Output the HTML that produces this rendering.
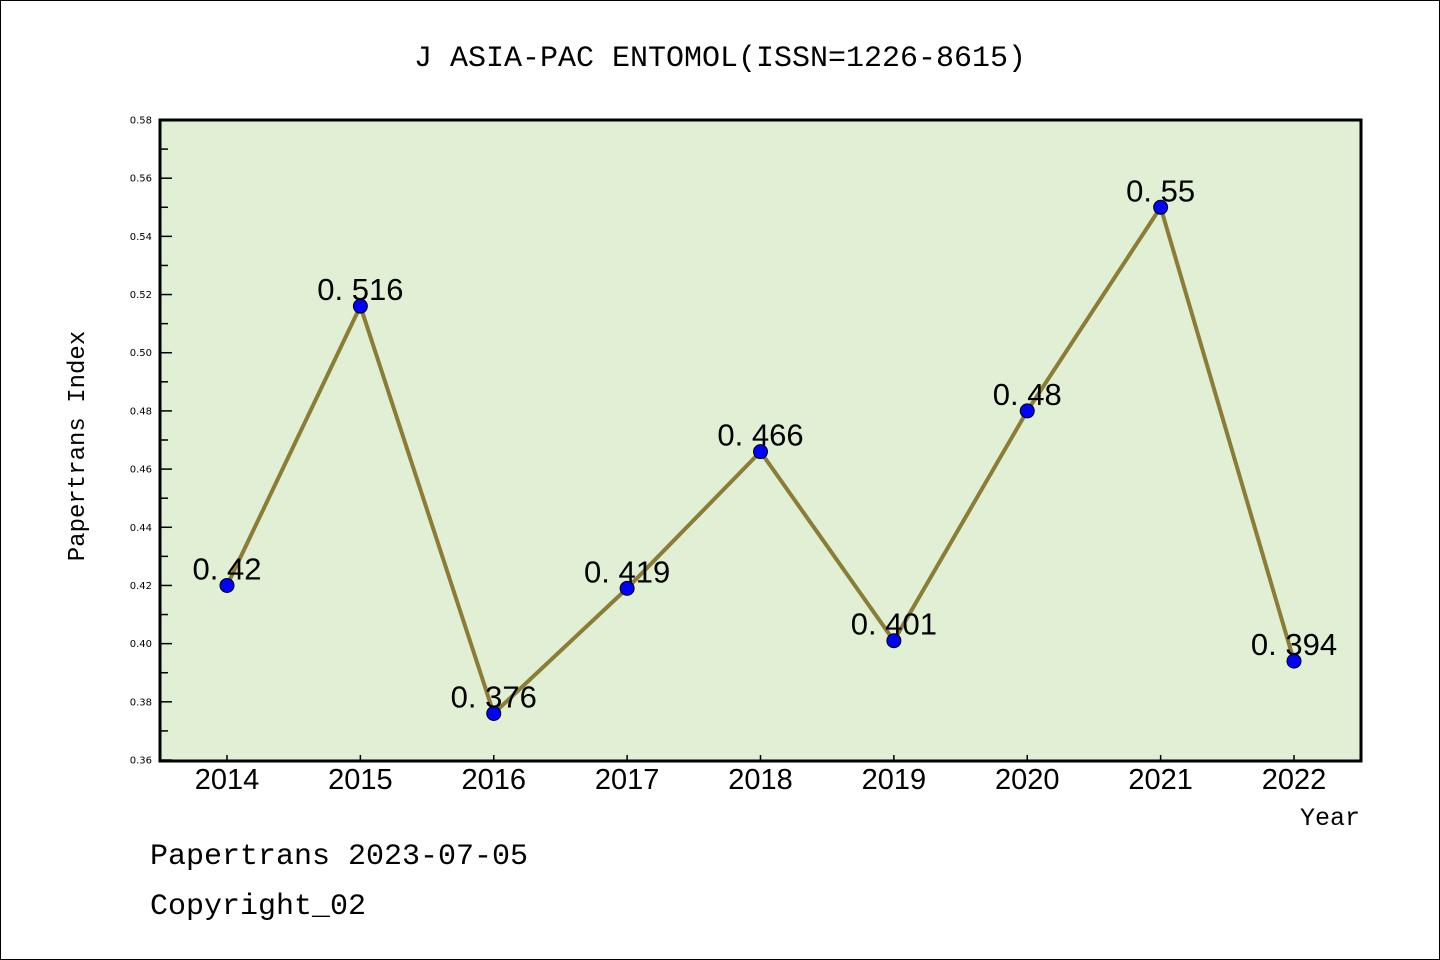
<!DOCTYPE html>
<html><head><meta charset="utf-8"><style>
html,body{margin:0;padding:0;background:#fff;}
svg{display:block;font-family:"Liberation Mono","DejaVu Sans Mono",monospace;}
</style></head><body>
<svg id="chart" width="1440" height="960" viewBox="0 0 1440 960" xmlns="http://www.w3.org/2000/svg">
<rect x="0.5" y="0.5" width="1439" height="959" fill="#fff" stroke="#000"/>
<text x="720" y="66" text-anchor="middle" font-size="30">J ASIA-PAC ENTOMOL(ISSN=1226-8615)</text>
<rect x="160" y="120" width="1201" height="641" fill="#e1efd4"/>
<g id="axes"></g>
<g id="series"></g>
<rect x="160" y="120" width="1201" height="641" fill="none" stroke="#000" stroke-width="3"/>
<text transform="translate(84,446) rotate(-90)" text-anchor="middle" font-size="24">Papertrans Index</text>
<text x="1330" y="825" text-anchor="middle" font-size="25">Year</text>
<text x="150" y="864" font-size="30">Papertrans 2023-07-05</text>
<text x="150" y="914" font-size="30">Copyright_02</text>
</svg>
<script>
const years = ["2014","2015","2016","2017","2018","2019","2020","2021","2022"];
const values = [0.42,0.516,0.376,0.419,0.466,0.401,0.48,0.55,0.394];
const valueLabels = ["0.42","0.516","0.376","0.419","0.466","0.401","0.48","0.55","0.394"];
const yTicks = ["0.36","0.38","0.40","0.42","0.44","0.46","0.48","0.50","0.52","0.54","0.56","0.58"];
const NS="http://www.w3.org/2000/svg";
const yMin=0.36,yMax=0.58,plotTop=120,plotBot=760,xFirst=227,xLast=1294;
function yScale(v){return plotBot-(v-yMin)/(yMax-yMin)*(plotBot-plotTop);}
function xScale(i){return xFirst+i*(xLast-xFirst)/(years.length-1);}
function mk(t,a,p){const e=document.createElementNS(NS,t);for(const k in a)e.setAttribute(k,a[k]);p.appendChild(e);return e;}
const axes=document.getElementById('axes'),ser=document.getElementById('series');
yTicks.forEach((t,i)=>{const v=parseFloat(t),yy=yScale(v);
 const l=mk('line',{x1:160,x2:172,y1:yy,y2:yy,stroke:'#000','stroke-width':1.5},axes);
 
 
 const tx=mk('text',{x:152,y:yy+3.5,'text-anchor':'end','font-size':10,'font-family':'DejaVu Sans, sans-serif'},axes);
 tx.textContent=t;
 
 
 if(i<yTicks.length-1){const ym=yScale(v+0.01);
  const m=mk('line',{x1:160,x2:168,y1:ym,y2:ym,stroke:'#000','stroke-width':1.5},axes);
  
  }
});
years.forEach((yr,i)=>{const xx=xScale(i);
 const l=mk('line',{x1:xx,x2:xx,y1:761,y2:755,stroke:'#000','stroke-width':1.5},axes);
 
 
 const tx=mk('text',{x:xx,y:789,'text-anchor':'middle','font-size':29,'font-family':'Liberation Sans, sans-serif'},axes);
 tx.textContent=yr;
 
 
});
const pl=mk('polyline',{points:values.map((v,i)=>xScale(i)+','+yScale(v)).join(' '),fill:'none',stroke:'#8b7d35','stroke-width':4,'stroke-linejoin':'round'},ser);


values.forEach((v,i)=>{
 const c=mk('circle',{cx:xScale(i),cy:yScale(v),r:7,fill:'#0000ff',stroke:'#000','stroke-width':1},ser);
 
 
 const t=mk('text',{x:xScale(i),y:yScale(v)-6,'text-anchor':'middle','font-size':31,'font-family':'Liberation Sans, sans-serif'},ser);
 t.textContent=valueLabels[i].replace('.','. ');
 
 
});
</script>
</body></html>
